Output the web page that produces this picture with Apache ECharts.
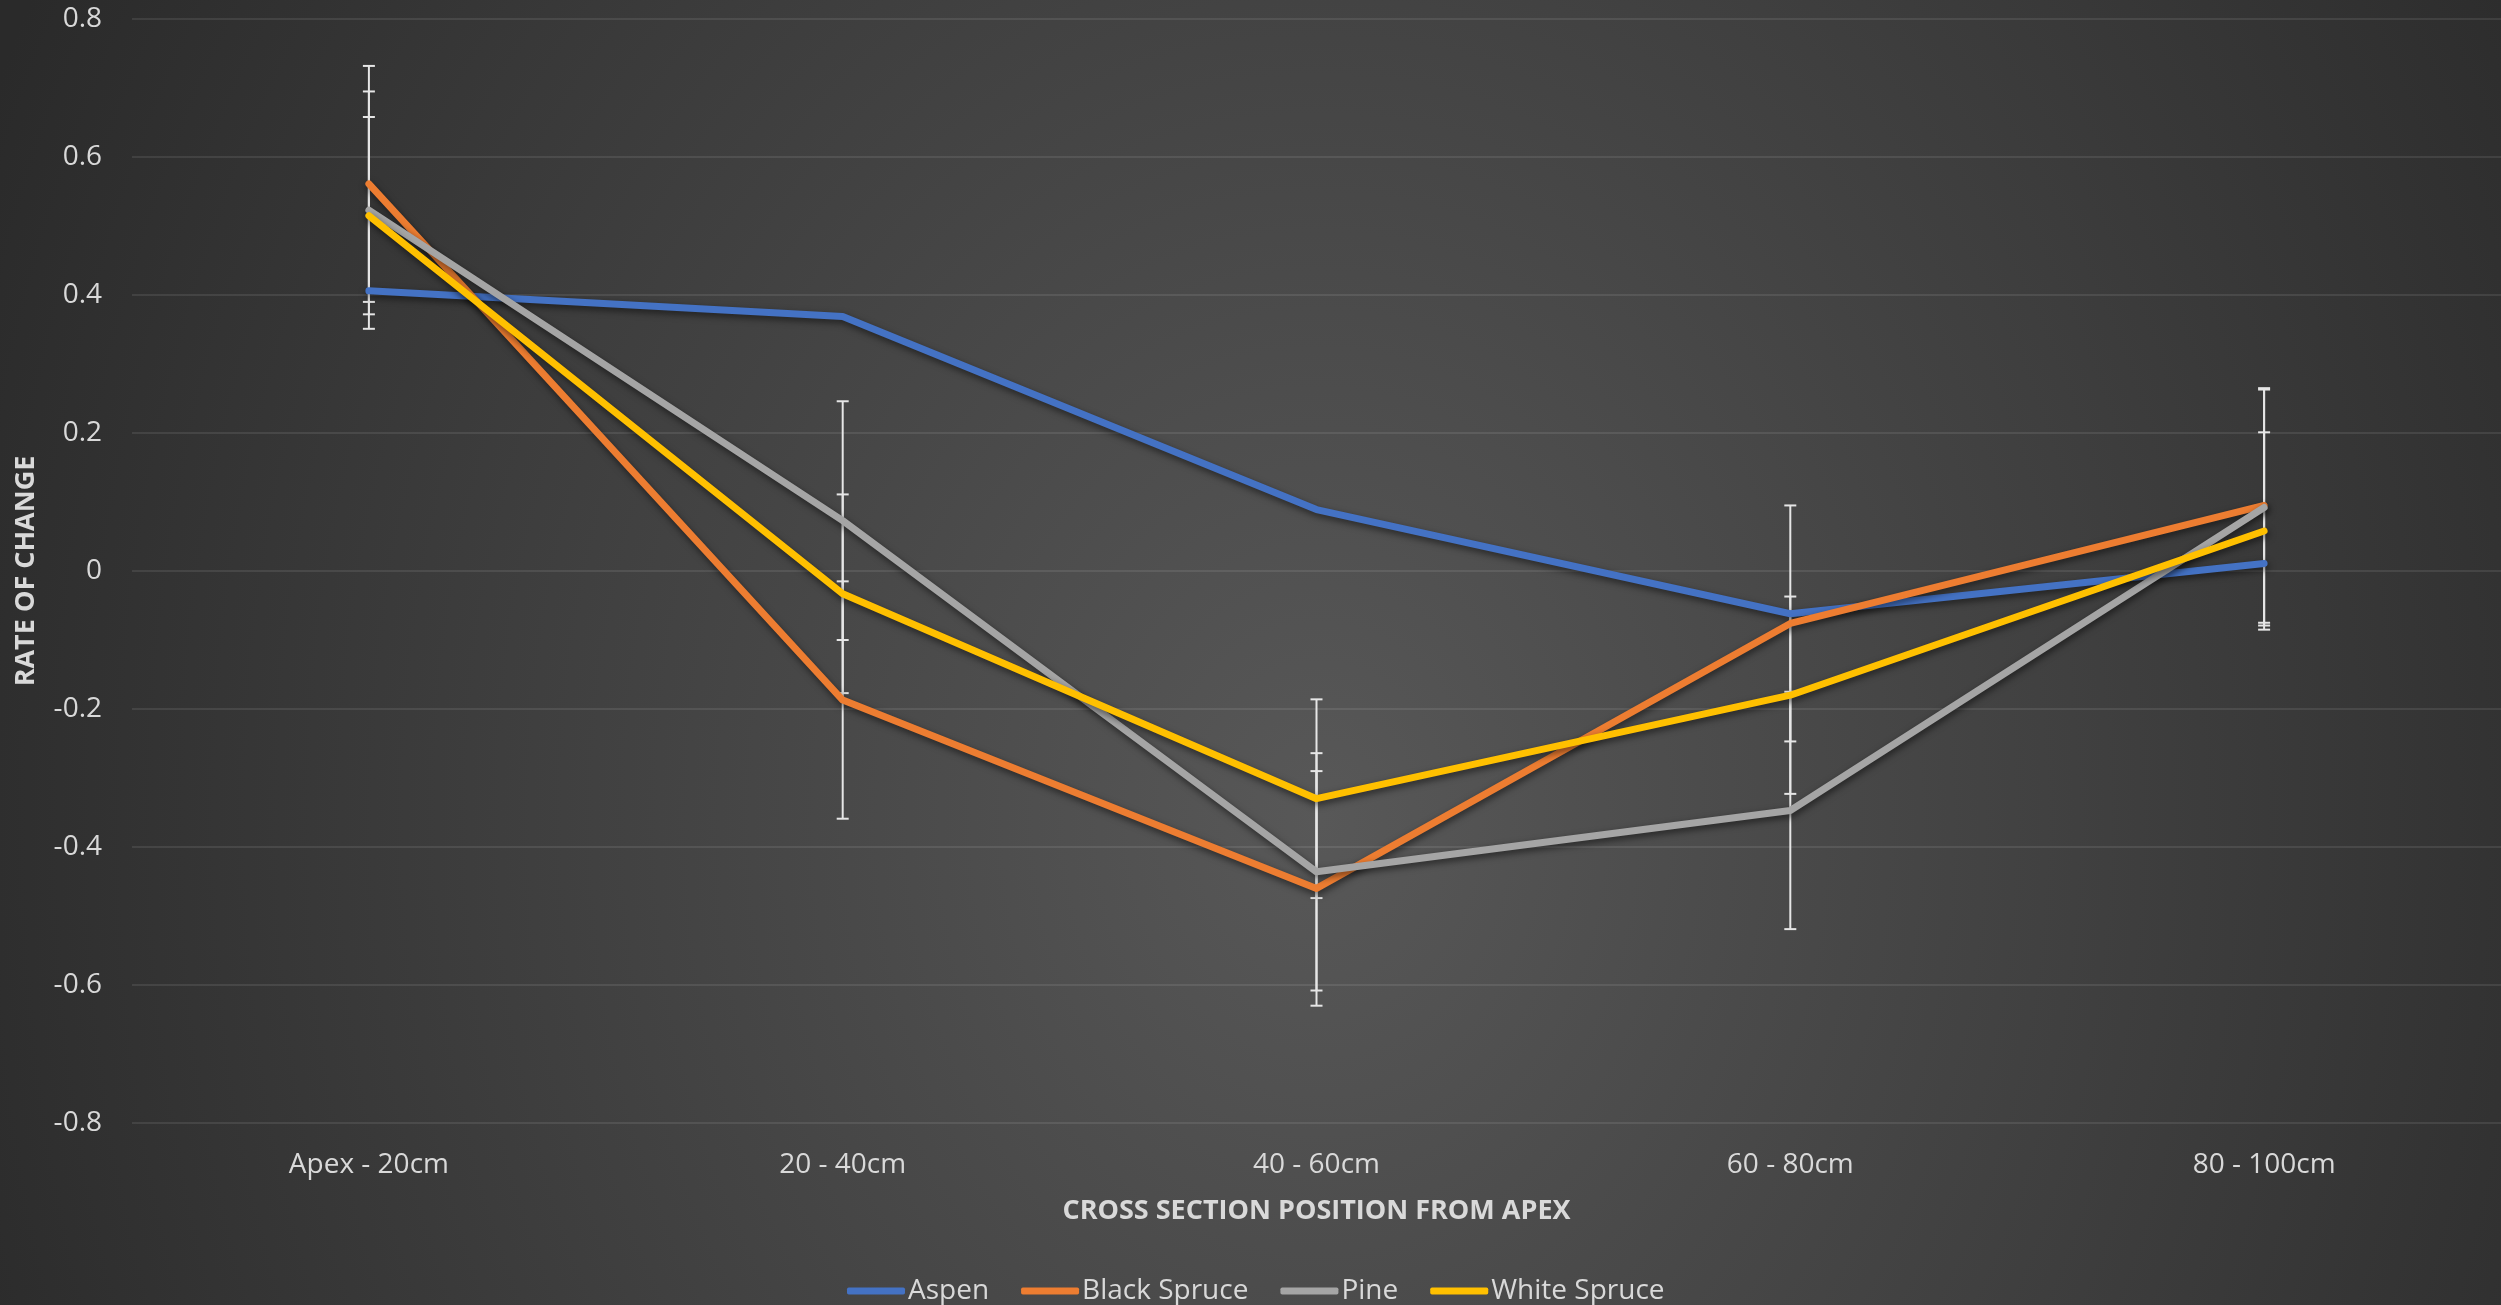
<!DOCTYPE html>
<html>
<head>
<meta charset="utf-8">
<script src="https://cdn.jsdelivr.net/npm/echarts@6/dist/echarts.min.js"></script>
<style>
  html, body { margin: 0; padding: 0; }
  #chart {
    width: 2501px; height: 1305px;
    background: radial-gradient(ellipse 1450px 1800px at 1320px 820px, #585858 0%, #2a2a2a 100%);
  }
</style>
</head>
<body>
<div id="chart"></div>
<script>
// ---- data ----
var categories = ['Apex - 20cm', '20 - 40cm', '40 - 60cm', '60 - 80cm', '80 - 100cm'];
var seriesNames = ['Aspen', 'Black Spruce', 'Pine', 'White Spruce'];
var aspen       = [0.406, 0.369, 0.089, -0.062, 0.011];
var blackSpruce = [0.561, -0.187, -0.460, -0.076, 0.095];
var pine        = [0.523, 0.073, -0.436, -0.347, 0.092];
var whiteSpruce = [0.515, -0.033, -0.330, -0.180, 0.058];
// error bar half-widths (aspen has none)
var blackSpruceErr = [0.171, 0.172, 0.170, 0.171, 0.170];
var pineErr        = [0.172, 0.173, 0.172, 0.172, 0.171];
var whiteSpruceErr = [0.143, 0.144, 0.144, 0.143, 0.143];
var yTicks = [-0.8, -0.6, -0.4, -0.2, 0, 0.2, 0.4, 0.6, 0.8];

var colors = ['#4472C4', '#ED7D31', '#A5A5A5', '#FFC000'];
var FONT = '"Open Sans", sans-serif';
var TEXT = '#d9d9d9';

function errData(vals, errs) {
  return vals.map(function (v, i) { return [i, v - errs[i], v + errs[i]]; });
}
function errSeries(vals, errs) {
  return {
    type: 'custom',
    z: 1,
    silent: true,
    data: errData(vals, errs),
    renderItem: function (params, api) {
      var x = api.value(0);
      var lo = api.coord([x, api.value(1)]);
      var hi = api.coord([x, api.value(2)]);
      var hw = 6;
      var st = { stroke: '#e6e6e6', lineWidth: 2 };
      return {
        type: 'group',
        children: [
          { type: 'line', shape: { x1: lo[0], y1: lo[1], x2: hi[0], y2: hi[1] }, style: st },
          { type: 'line', shape: { x1: lo[0] - hw, y1: lo[1], x2: lo[0] + hw, y2: lo[1] }, style: st },
          { type: 'line', shape: { x1: hi[0] - hw, y1: hi[1], x2: hi[0] + hw, y2: hi[1] }, style: st }
        ]
      };
    }
  };
}
function lineSeries(name, vals, color) {
  return {
    name: name,
    type: 'line',
    z: 3,
    data: vals,
    symbol: 'none',
    color: color,
    lineStyle: {
      width: 7, color: color, cap: 'round', join: 'round',
      shadowColor: 'rgba(0,0,0,0.55)', shadowBlur: 7, shadowOffsetY: 3, shadowOffsetX: 1
    },
    emphasis: { disabled: true }
  };
}

var chart = echarts.init(document.getElementById('chart'), null, { renderer: 'canvas' });
chart.setOption({
  backgroundColor: 'transparent',
  animation: false,
  color: colors,
  grid: { left: 132, right: 0, top: 19, bottom: 182, containLabel: false },
  legend: {
    data: seriesNames,
    left: 847,
    top: 1277,
    padding: 0,
    itemGap: 32,
    itemWidth: 58,
    itemHeight: 7,
    icon: 'roundRect',
    textStyle: { color: TEXT, fontSize: 28, fontFamily: FONT, padding: [0, 0, 0, -2] }
  },
  xAxis: {
    type: 'category',
    data: categories,
    boundaryGap: true,
    axisLine: { show: false },
    axisTick: { show: false },
    axisLabel: { color: TEXT, fontSize: 28, fontFamily: FONT, margin: 28 },
    splitLine: { show: false },
    name: 'CROSS SECTION POSITION FROM APEX',
    nameLocation: 'middle',
    nameGap: 75,
    nameTextStyle: { color: TEXT, fontSize: 27, fontWeight: 'bold', fontFamily: FONT }
  },
  yAxis: {
    type: 'value',
    min: yTicks[0],
    max: yTicks[yTicks.length - 1],
    interval: 0.2,
    axisLine: { show: false },
    axisTick: { show: false },
    axisLabel: {
      color: TEXT, fontSize: 28, fontFamily: FONT, margin: 30,
      formatter: function (v) { return String(Math.round(v * 10) / 10); }
    },
    splitLine: { show: true, lineStyle: { color: 'rgba(255,255,255,0.09)', width: 2 } },
    name: 'RATE OF CHANGE',
    nameLocation: 'middle',
    nameGap: 92,
    nameTextStyle: { color: TEXT, fontSize: 27, fontWeight: 'bold', fontFamily: FONT }
  },
  series: [
    errSeries(blackSpruce, blackSpruceErr),
    errSeries(pine, pineErr),
    errSeries(whiteSpruce, whiteSpruceErr),
    lineSeries(seriesNames[0], aspen, colors[0]),
    lineSeries(seriesNames[1], blackSpruce, colors[1]),
    lineSeries(seriesNames[2], pine, colors[2]),
    lineSeries(seriesNames[3], whiteSpruce, colors[3])
  ]
});
</script>
</body>
</html>
